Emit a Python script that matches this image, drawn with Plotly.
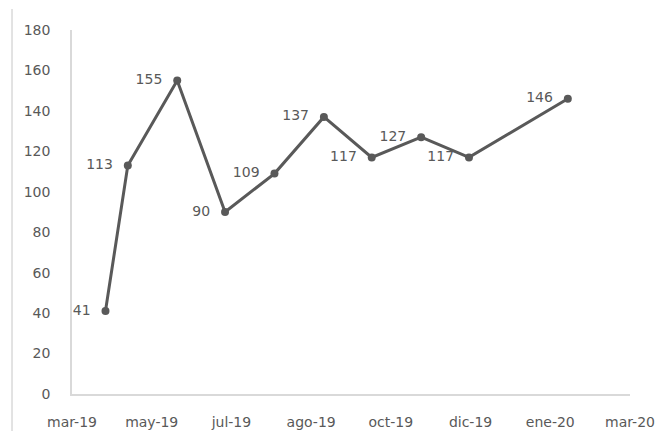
import plotly.graph_objects as go

# datos (fechas de medición y valores)
fechas = ['2019-04-17', '2019-05-01', '2019-06-01', '2019-07-01', '2019-08-01',
          '2019-09-01', '2019-10-01', '2019-11-01', '2019-12-01', '2020-02-01']
valores = [41, 113, 155, 90, 109, 137, 117, 127, 117, 146]

# eje x: marcas cada 50 días
ticks_x = ['2019-03-27', '2019-05-16', '2019-07-05', '2019-08-24',
           '2019-10-13', '2019-12-02', '2020-01-21', '2020-03-11']
etiquetas_x = ['mar-19', 'may-19', 'jul-19', 'ago-19', 'oct-19', 'dic-19', 'ene-20', 'mar-20']
ticks_y = [0, 20, 40, 60, 80, 100, 120, 140, 160, 180]

gris = '#595959'
borde = '#d9d9d9'

# el body de la página tiene 8px de margen: el div queda en (8, 8)
fig = go.Figure(
    data=[
        go.Scatter(
            x=fechas, y=valores, mode='lines+markers+text',
            line=dict(color=gris, width=3),
            marker=dict(color=gris, size=8),
            text=[str(v) for v in valores],
            texttemplate='%{text}  ',
            textposition='middle left',
            textfont=dict(family='DejaVu Sans', size=14, color=gris),
            cliponaxis=False,
            hoverinfo='skip',
        )
    ],
    layout={
        'width': 655, 'height': 423,
        'margin': {'l': 64, 'r': 33, 't': 22, 'b': 37},
        'paper_bgcolor': 'white', 'plot_bgcolor': 'white',
        'showlegend': False,
        'font': {'family': 'DejaVu Sans', 'size': 14, 'color': gris},
        'xaxis': {
            'type': 'date', 'range': [ticks_x[0], ticks_x[-1]],
            'tickmode': 'array', 'tickvals': ticks_x, 'ticktext': etiquetas_x,
            'showgrid': False, 'zeroline': False, 'automargin': False,
            'showline': True, 'linecolor': borde, 'linewidth': 1.5,
            'ticks': '', 'ticklabelstandoff': 14,
        },
        'yaxis': {
            'range': [0, 180], 'tickmode': 'array', 'tickvals': ticks_y,
            'showgrid': False, 'zeroline': False, 'automargin': False,
            'showline': True, 'linecolor': borde, 'linewidth': 1.5,
            'ticks': '', 'ticklabelstandoff': 17,
        },
        'shapes': [
            # borde izquierdo del área del gráfico
            {'type': 'line', 'xref': 'paper', 'yref': 'paper',
             'x0': -0.1075, 'x1': -0.1075, 'y0': -0.11, 'y1': 1.058,
             'line': {'color': borde, 'width': 1.5}},
        ],
    }
)

fig.write_html("out.html")
